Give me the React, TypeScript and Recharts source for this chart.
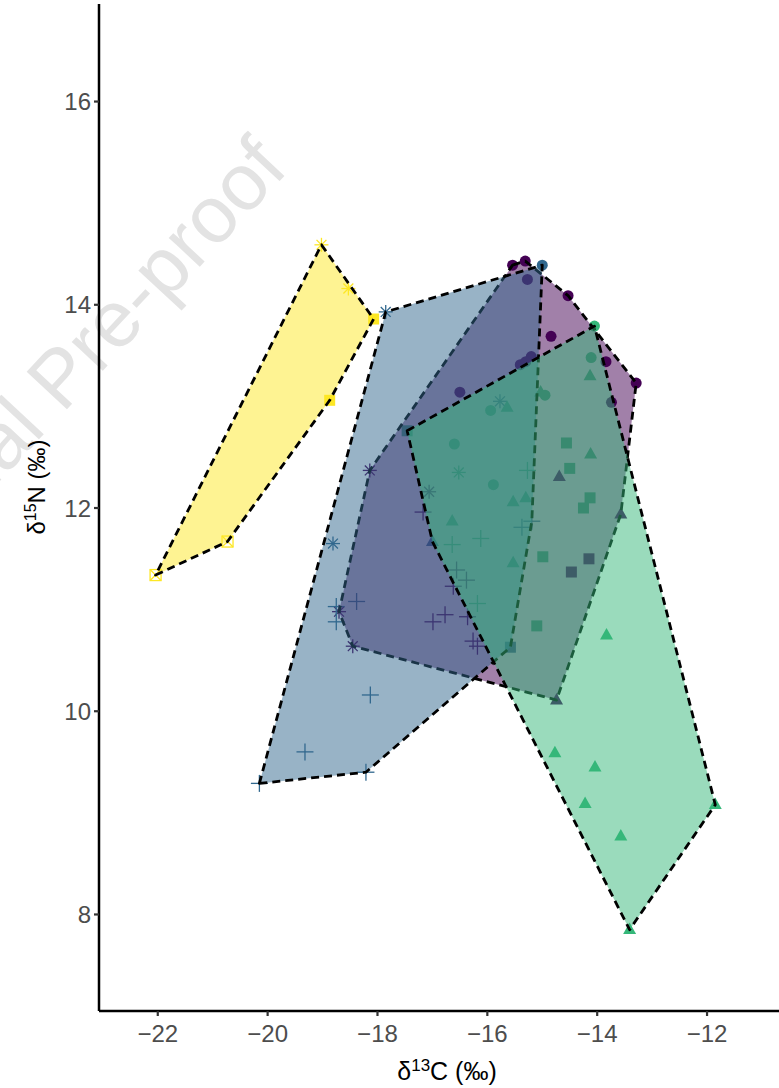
import React from 'react';
import { ScatterChart, Scatter, XAxis, YAxis } from 'recharts';

const xTicks = [-22, -20, -18, -16, -14, -12];
const yTicks = [8, 10, 12, 14, 16];

type P = { x: number; y: number; s: string };

const purplePoints: P[] = [
  { x: -15.54, y: 14.39, s: 'circle' }, { x: -15.31, y: 14.43, s: 'circle' }, { x: -15.27, y: 14.25, s: 'circle' },
  { x: -14.53, y: 14.09, s: 'circle' }, { x: -14.84, y: 13.69, s: 'circle' }, { x: -15.4, y: 13.41, s: 'circle' },
  { x: -15.2, y: 13.49, s: 'circle' }, { x: -15.3, y: 13.44, s: 'circle' }, { x: -13.84, y: 13.44, s: 'circle' },
  { x: -13.29, y: 13.23, s: 'circle' }, { x: -16.5, y: 13.14, s: 'circle' }, { x: -13.74, y: 13.04, s: 'circle' },
  { x: -18.14, y: 12.37, s: 'asterisk' }, { x: -18.7, y: 10.98, s: 'asterisk' }, { x: -18.45, y: 10.64, s: 'asterisk' },
  { x: -17.06, y: 12.16, s: 'asterisk' },
  { x: -13.57, y: 11.94, s: 'triangle' }, { x: -14.74, y: 10.11, s: 'triangle' }, { x: -14.69, y: 12.31, s: 'triangle' },
  { x: -14.47, y: 11.37, s: 'square' }, { x: -14.15, y: 11.5, s: 'square' },
  { x: -16.77, y: 10.95, s: 'plus' }, { x: -16.99, y: 10.88, s: 'plus' }, { x: -16.36, y: 10.93, s: 'plus' },
  { x: -16.26, y: 10.69, s: 'plus' }, { x: -16.18, y: 10.64, s: 'plus' }, { x: -16.56, y: 11.39, s: 'plus' },
  { x: -16.38, y: 11.29, s: 'plus' }, { x: -16.62, y: 11.23, s: 'plus' }, { x: -17.17, y: 11.96, s: 'plus' },
];

const bluePoints: P[] = [
  { x: -17.85, y: 13.93, s: 'asterisk' }, { x: -15.0, y: 14.39, s: 'circle' }, { x: -18.81, y: 11.65, s: 'asterisk' },
  { x: -20.15, y: 9.29, s: 'plus' }, { x: -19.32, y: 9.6, s: 'plus' }, { x: -18.21, y: 9.4, s: 'plus' },
  { x: -18.13, y: 10.16, s: 'plus' }, { x: -18.75, y: 10.88, s: 'plus' }, { x: -18.75, y: 11.03, s: 'plus' },
  { x: -18.38, y: 11.08, s: 'plus' }, { x: -15.58, y: 10.63, s: 'square' }, { x: -15.19, y: 11.87, s: 'plus' },
  { x: -15.37, y: 11.81, s: 'plus' }, { x: -15.77, y: 13.05, s: 'asterisk' }, { x: -17.0, y: 11.67, s: 'triangle' },
];

const greenPoints: P[] = [
  { x: -14.05, y: 13.79, s: 'circle' }, { x: -14.11, y: 13.48, s: 'circle' }, { x: -14.95, y: 13.11, s: 'circle' },
  { x: -15.94, y: 12.96, s: 'circle' }, { x: -16.6, y: 12.63, s: 'circle' }, { x: -15.89, y: 12.23, s: 'circle' },
  { x: -14.13, y: 13.3, s: 'triangle' }, { x: -15.03, y: 13.14, s: 'triangle' }, { x: -15.64, y: 12.99, s: 'triangle' },
  { x: -14.12, y: 12.53, s: 'triangle' }, { x: -15.53, y: 12.06, s: 'triangle' }, { x: -15.3, y: 12.1, s: 'triangle' },
  { x: -16.64, y: 11.87, s: 'triangle' }, { x: -15.53, y: 11.46, s: 'triangle' }, { x: -13.83, y: 10.75, s: 'triangle' },
  { x: -14.77, y: 9.59, s: 'triangle' }, { x: -14.04, y: 9.45, s: 'triangle' }, { x: -14.22, y: 9.09, s: 'triangle' },
  { x: -11.85, y: 9.08, s: 'triangle' }, { x: -13.57, y: 8.77, s: 'triangle' }, { x: -13.41, y: 7.85, s: 'triangle' },
  { x: -17.46, y: 12.76, s: 'square' }, { x: -14.56, y: 12.64, s: 'square' }, { x: -14.5, y: 12.39, s: 'square' },
  { x: -14.13, y: 12.1, s: 'square' }, { x: -14.25, y: 12.0, s: 'square' }, { x: -14.99, y: 11.52, s: 'square' },
  { x: -15.1, y: 10.84, s: 'square' },
  { x: -16.52, y: 12.35, s: 'asterisk' },
  { x: -15.27, y: 12.37, s: 'plus' }, { x: -16.12, y: 11.7, s: 'plus' }, { x: -16.64, y: 11.64, s: 'plus' },
  { x: -16.18, y: 11.06, s: 'plus' },
];

const yellowPoints: P[] = [
  { x: -22.04, y: 11.34, s: 'crossSquare' }, { x: -20.73, y: 11.67, s: 'crossSquare' },
  { x: -18.87, y: 13.06, s: 'square' }, { x: -18.07, y: 13.86, s: 'square' },
  { x: -19.02, y: 14.59, s: 'asterisk' }, { x: -18.53, y: 14.16, s: 'asterisk' },
];

const purpleHull = [
  { x: -15.54, y: 14.39 }, { x: -15.31, y: 14.43 }, { x: -14.53, y: 14.09 }, { x: -13.29, y: 13.23 },
  { x: -13.57, y: 11.94 }, { x: -14.74, y: 10.11 }, { x: -18.45, y: 10.64 }, { x: -18.7, y: 10.98 },
  { x: -18.14, y: 12.37 },
];
const blueHull = [
  { x: -20.15, y: 9.29 }, { x: -18.21, y: 9.4 }, { x: -15.58, y: 10.63 }, { x: -15.19, y: 11.87 },
  { x: -15.0, y: 14.39 }, { x: -17.85, y: 13.93 },
];
const greenHull = [
  { x: -17.46, y: 12.76 }, { x: -14.05, y: 13.79 }, { x: -11.85, y: 9.08 }, { x: -13.41, y: 7.85 },
  { x: -17.0, y: 11.67 },
];
const yellowHull = [
  { x: -22.04, y: 11.34 }, { x: -20.73, y: 11.67 }, { x: -18.87, y: 13.06 }, { x: -18.07, y: 13.86 },
  { x: -19.02, y: 14.59 },
];

const PURPLE = '#440154';
const BLUE = '#31688E';
const GREEN = '#35B779';
const YELLOW = '#FDE725';

function Marker(props: any) {
  const { cx, cy, payload, color } = props;
  if (cx == null || cy == null) return <g />;
  const s = payload.s;
  if (s === 'circle') return <circle cx={cx} cy={cy} r={5.5} fill={color} />;
  if (s === 'square') return <rect x={cx - 5.5} y={cy - 5.5} width={11} height={11} fill={color} />;
  if (s === 'triangle') {
    const h = 11.5;
    const w = 13;
    return <polygon points={`${cx},${cy - h * 0.62} ${cx - w / 2},${cy + h * 0.38} ${cx + w / 2},${cy + h * 0.38}`} fill={color} />;
  }
  if (s === 'plus') {
    const a = 8.5;
    return (
      <g stroke={color} strokeWidth={1.3}>
        <line x1={cx - a} y1={cy} x2={cx + a} y2={cy} />
        <line x1={cx} y1={cy - a} x2={cx} y2={cy + a} />
      </g>
    );
  }
  if (s === 'asterisk') {
    const a = 7;
    const d = a * 0.7071;
    return (
      <g stroke={color} strokeWidth={1.3}>
        <line x1={cx - a} y1={cy} x2={cx + a} y2={cy} />
        <line x1={cx} y1={cy - a} x2={cx} y2={cy + a} />
        <line x1={cx - d} y1={cy - d} x2={cx + d} y2={cy + d} />
        <line x1={cx - d} y1={cy + d} x2={cx + d} y2={cy - d} />
      </g>
    );
  }
  if (s === 'crossSquare') {
    const a = 5.5;
    return (
      <g stroke={color} strokeWidth={1.3} fill="none">
        <rect x={cx - a} y={cy - a} width={2 * a} height={2 * a} />
        <line x1={cx - a} y1={cy - a} x2={cx + a} y2={cy + a} />
        <line x1={cx - a} y1={cy + a} x2={cx + a} y2={cy - a} />
      </g>
    );
  }
  return <g />;
}

function hullLine(color: string) {
  return (lp: any) => {
    const pts = (lp.points || []).filter((p: any) => p && p.x != null && p.y != null);
    const str = pts.map((p: any) => `${p.x},${p.y}`).join(' ');
    return (
      <polygon
        points={str}
        fill={color}
        fillOpacity={0.5}
        stroke="#000"
        strokeWidth={2.8}
        strokeDasharray="8 5"
        strokeLinejoin="round"
      />
    );
  };
}

const fmt = (v: number) => String(v).replace('-', '\u2212');
const font = "'Liberation Sans', Arial, Helvetica, sans-serif";

export default function App() {
  return (
    <div style={{ position: 'absolute', left: 0, top: 0, width: 779, height: 1088, background: '#fff', overflow: 'hidden' }}>
      <svg width={779} height={1088} style={{ position: 'absolute', left: 0, top: 0 }}>
        <text
          transform="translate(290,170) rotate(-47)"
          textAnchor="end"
          fontSize={80}
          fontFamily={font}
          fill="#e3e3e3"
        >
          Journal Pre-proof
        </text>
      </svg>
      <div style={{ position: 'absolute', left: 0, top: 0 }}>
        <ScatterChart width={779} height={1088} margin={{ top: 4, right: 0, bottom: 0, left: 0 }}>
          <XAxis
            type="number"
            dataKey="x"
            domain={[-23.07, -10.69]}
            allowDataOverflow
            ticks={xTicks}
            tickFormatter={fmt}
            height={77}
            axisLine={{ stroke: '#000', strokeWidth: 2.5 }}
            tickLine={{ stroke: '#333', strokeWidth: 2.2 }}
            tickSize={5}
            tickMargin={9}
            tick={{ fontSize: 24, fill: '#4d4d4d', fontFamily: font }}
          />
          <YAxis
            type="number"
            dataKey="y"
            domain={[7.05, 16.96]}
            allowDataOverflow
            ticks={yTicks}
            tickFormatter={fmt}
            width={99}
            axisLine={{ stroke: '#000', strokeWidth: 2.5 }}
            tickLine={{ stroke: '#333', strokeWidth: 2.2 }}
            tickSize={5}
            tickMargin={3}
            tick={{ fontSize: 24, fill: '#4d4d4d', fontFamily: font }}
          />
          <Scatter data={purplePoints} isAnimationActive={false} shape={(p: any) => <Marker {...p} color={PURPLE} />} />
          <Scatter data={bluePoints} isAnimationActive={false} shape={(p: any) => <Marker {...p} color={BLUE} />} />
          <Scatter data={greenPoints} isAnimationActive={false} shape={(p: any) => <Marker {...p} color={GREEN} />} />
          <Scatter data={yellowPoints} isAnimationActive={false} shape={(p: any) => <Marker {...p} color={YELLOW} />} />
          <Scatter data={purpleHull} isAnimationActive={false} shape={() => <g />} line={hullLine(PURPLE)} lineType="joint" />
          <Scatter data={blueHull} isAnimationActive={false} shape={() => <g />} line={hullLine(BLUE)} lineType="joint" />
          <Scatter data={greenHull} isAnimationActive={false} shape={() => <g />} line={hullLine(GREEN)} lineType="joint" />
          <Scatter data={yellowHull} isAnimationActive={false} shape={() => <g />} line={hullLine(YELLOW)} lineType="joint" />
        </ScatterChart>
      </div>
      <svg width={779} height={1088} style={{ position: 'absolute', left: 0, top: 0, pointerEvents: 'none' }}>
        <text x={447} y={1080} textAnchor="middle" fontSize={25} fontFamily={font} fill="#000">
          δ<tspan dy={-9} fontSize={17}>13</tspan><tspan dy={9}>C (‰)</tspan>
        </text>
        <text transform="translate(45,487) rotate(-90)" textAnchor="middle" fontSize={24} fontFamily={font} fill="#000">
          δ<tspan dy={-9} fontSize={16}>15</tspan><tspan dy={9}>N (‰)</tspan>
        </text>
      </svg>
    </div>
  );
}
